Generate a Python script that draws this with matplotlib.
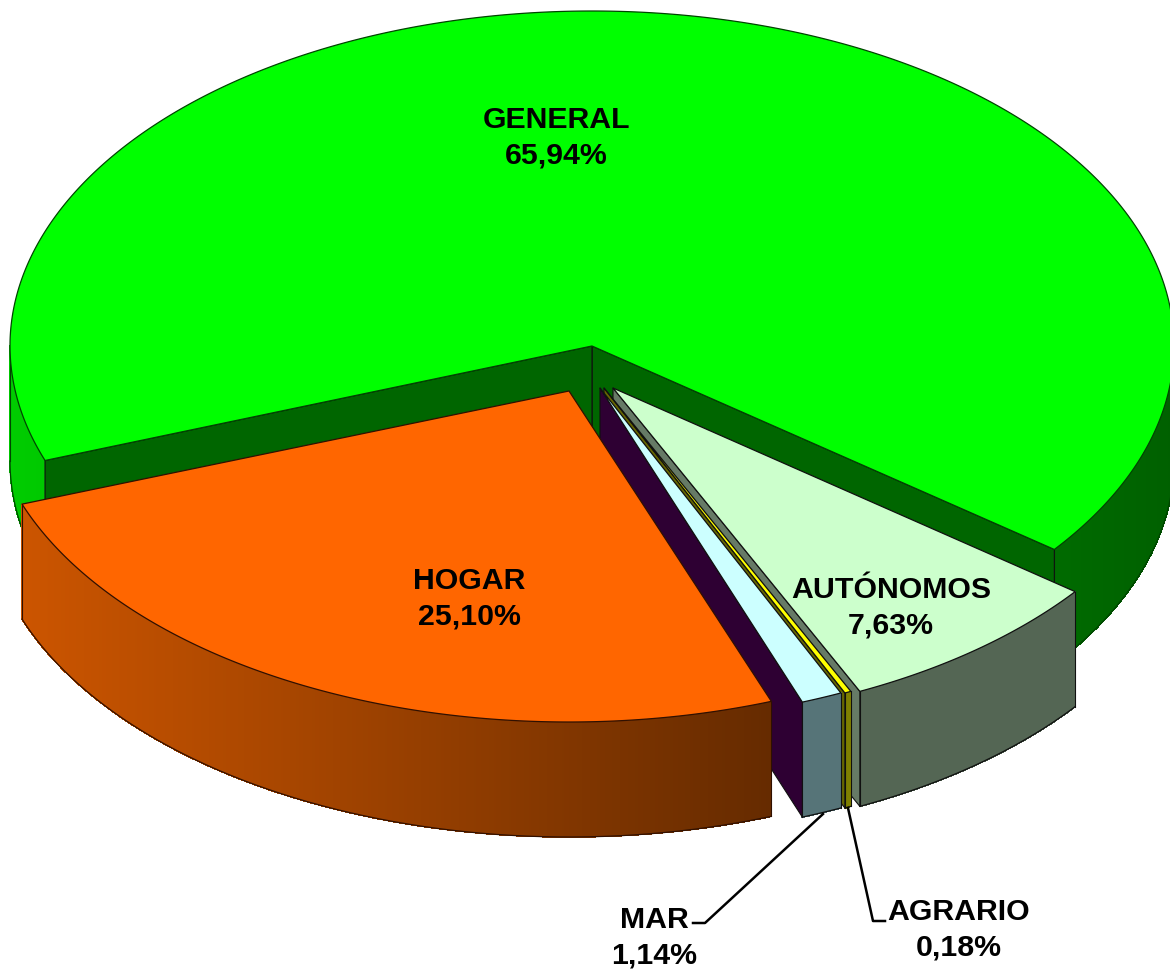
import numpy as np
import matplotlib
matplotlib.use("Agg")
import matplotlib.pyplot as plt
from matplotlib.colors import to_rgb
from matplotlib.patches import Polygon

# Data
names = ["GENERAL", "HOGAR", "MAR", "AGRARIO", "AUTÓNOMOS"]
values = [65.94, 25.10, 1.14, 0.18, 7.63]

# Colours for each slice
top_colors = ["#00FF00", "#FF6600", "#CCFFFF", "#FFFF00", "#CCFFCC"]
side_left = ["#00CC00", "#CC5500", "#567478", "#808000", "#546654"]
side_right = ["#006000", "#662B00", "#567478", "#808000", "#546654"]
wall_colors = ["#006600", "#662B00", "#2E0033", "#666600", "#667A66"]
edge_colors = ["#004400", "#301000", "#101010", "#101010", "#101010"]

# Pie geometry in pixels
RX = 582
radii_y = [335, 331, 335, 335, 335]
DEPTH = 115
START = 37.4
centers = [(592, 346), (569, 391), (600, 388), (604, 388), (613, 388)]

# Label centres, same order as names
label_pos = [(556, 138), (469, 599), (654, 938), (959, 930), (891, 608)]

# Leader lines
leaders = {
    "MAR": ([823, 705, 693], [814, 923, 923]),
    "AGRARIO": ([848, 873, 885], [808, 921, 921]),
}


def point(c, ry, t):
    return c[0] + RX * np.cos(np.radians(t)), c[1] + ry * np.sin(np.radians(t))


def outline_rim(ax, c, ry, run, edge, z):
    ts = [run[0][0]] + [r[1] for r in run]
    pts = np.array([point(c, ry, t) for t in ts])
    ax.plot(pts[:, 0], pts[:, 1] + DEPTH, color=edge, lw=0.9, zorder=z + 0.1)
    for end in (pts[0], pts[-1]):
        ax.plot([end[0], end[0]], [end[1], end[1] + DEPTH], color=edge, lw=0.8, zorder=z + 0.1)


def draw_side(ax, c, ry, t0, t1, col_l, col_r, edge, z):
    # outer rim, one thin strip per step so the gradient shows
    ts = np.linspace(t0, t1, int(abs(t1 - t0) * 4) + 2)
    col_l = np.array(to_rgb(col_l))
    col_r = np.array(to_rgb(col_r))
    xs_vis = [point(c, ry, t)[0] for t in ts if np.sin(np.radians(t)) >= 0]
    xmin, xmax = min(xs_vis), max(xs_vis)
    run = []
    for a, b in zip(ts[:-1], ts[1:]):
        mid = (a + b) / 2
        if np.sin(np.radians(mid)) < 0:
            if run:
                outline_rim(ax, c, ry, run, edge, z)
                run = []
            continue
        xa, ya = point(c, ry, a)
        xb, yb = point(c, ry, b)
        f = np.clip(((xa + xb) / 2 - xmin) / max(xmax - xmin, 1), 0, 1)
        col = col_l + (col_r - col_l) * f
        ax.add_patch(Polygon([(xa, ya), (xb, yb), (xb, yb + DEPTH), (xa, ya + DEPTH)],
                             closed=True, facecolor=col, edgecolor=col, lw=0.5,
                             antialiased=False, zorder=z))
        run.append((a, b))
    if run:
        outline_rim(ax, c, ry, run, edge, z)


def draw_wall(ax, c, ry, t, color, z):
    x, y = point(c, ry, t)
    ax.add_patch(Polygon([c, (x, y), (x, y + DEPTH), (c[0], c[1] + DEPTH)], closed=True,
                         facecolor=color, edgecolor="#101010", lw=0.8, zorder=z))


def draw_top(ax, c, ry, t0, t1, color, edge, z):
    ts = np.linspace(t0, t1, int(abs(t1 - t0) * 3) + 2)
    pts = [c] + [point(c, ry, t) for t in ts]
    ax.add_patch(Polygon(pts, closed=True, facecolor=color, edgecolor=edge,
                         lw=0.9, joinstyle="round", zorder=z))


fig = plt.figure(figsize=(11.7, 9.69), dpi=100)
ax = fig.add_axes([0, 0, 1, 1])
ax.set_xlim(0, 1170)
ax.set_ylim(969, 0)
ax.axis("off")

# slice angles, running clockwise on screen from the right side of GENERAL
edges = [START]
for v in values:
    edges.append(edges[-1] - v * 3.6)

# GENERAL sits at the back, then the others, MAR and HOGAR in front
order = [0, 4, 3, 2, 1]
for n, i in enumerate(order):
    z = 2 + n * 2
    c = centers[i]
    ry = radii_y[i]
    t0, t1 = edges[i], edges[i + 1]
    draw_side(ax, c, ry, t0, t1, side_left[i], side_right[i], edge_colors[i], z)
    if i == 0:
        draw_wall(ax, c, ry, t0, wall_colors[i], z + 0.2)
        draw_wall(ax, c, ry, t1, wall_colors[i], z + 0.2)
    elif i != 1:
        # the cut face that looks towards the viewer
        draw_wall(ax, c, ry, t0, wall_colors[i], z + 0.2)
    draw_top(ax, c, ry, t0, t1, top_colors[i], edge_colors[i], z + 0.4)

# Labels
for name, v, (x, y) in zip(names, values, label_pos):
    txt = name + "\n" + f"{v:.2f}".replace(".", ",") + "%"
    ax.text(x, y, txt, ha="center", va="center", fontsize=21.8, fontweight="bold",
            family="Liberation Sans", color="black", linespacing=1.33, zorder=30)

for name, (lx, ly) in leaders.items():
    ax.plot(lx, ly, color="black", lw=1.8, zorder=29)

fig.savefig("out.png", dpi=100, facecolor="white")
